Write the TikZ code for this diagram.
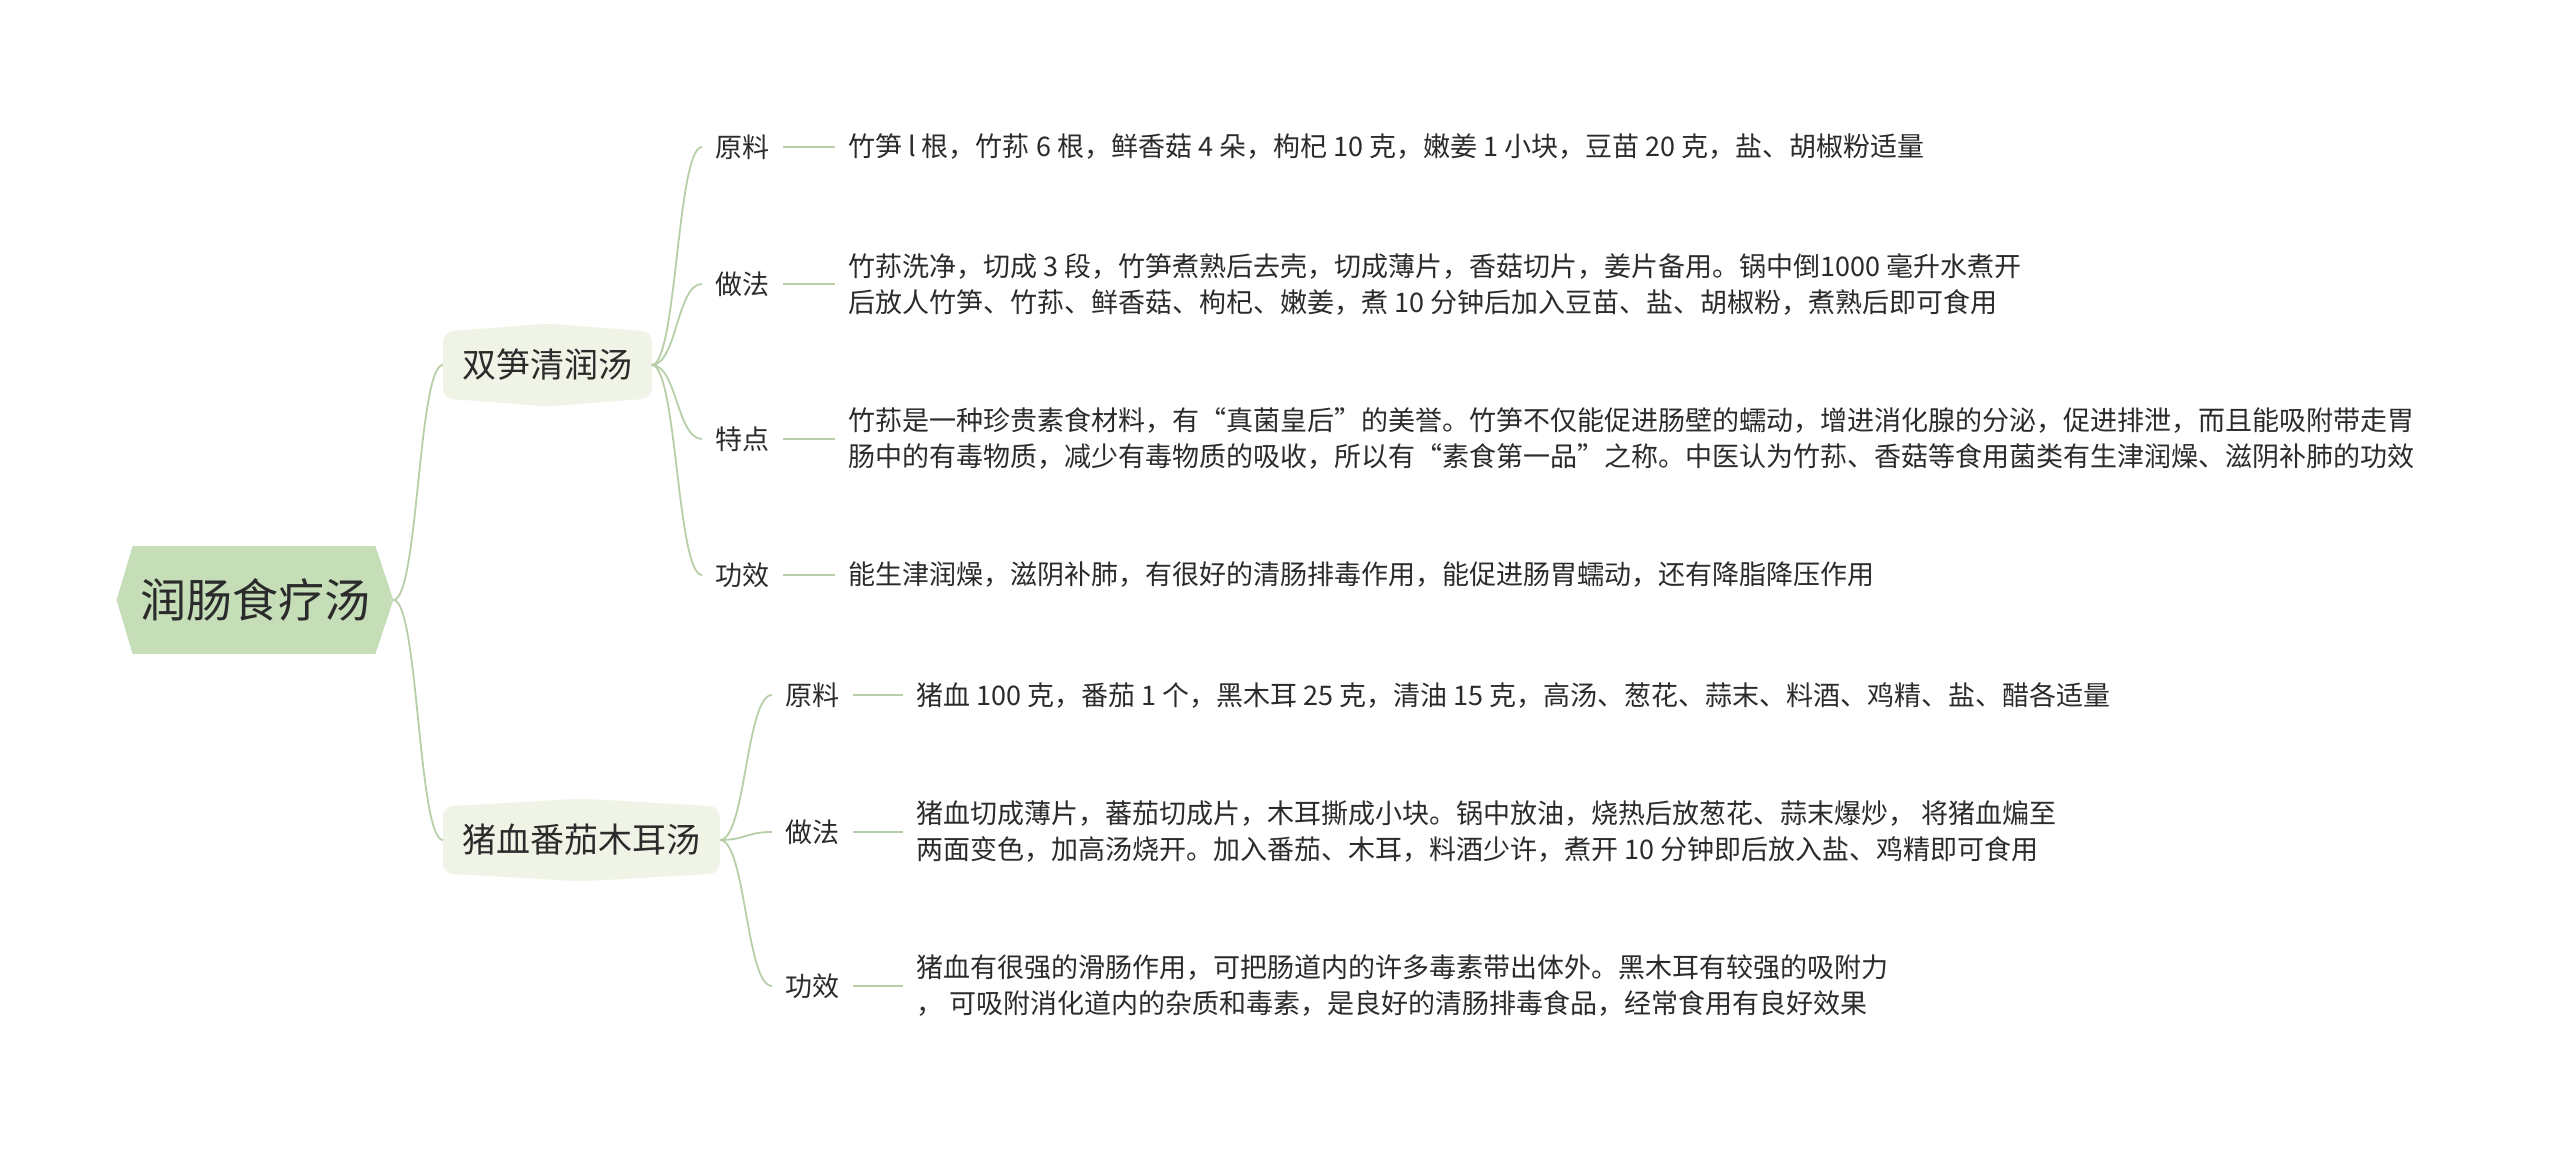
\documentclass[tikz,border=0pt]{standalone}
\usepackage{fontspec}
\setmainfont{Noto Sans CJK SC}
\usepackage{tikz}
\usetikzlibrary{positioning, calc, backgrounds}
\definecolor{rootfill}{RGB}{197,222,184}
\definecolor{soupfill}{RGB}{239,244,230}
\definecolor{twigcolor}{RGB}{183,207,168}
\definecolor{inkgray}{RGB}{43,43,43}
\tikzset{
  rootbox/.style={
    minimum width=138pt, minimum height=53.5pt, inner sep=0pt,
    font=\fontsize{23pt}{27pt}\selectfont, text=inkgray
  },
  soupbox/.style={
    anchor=west, minimum height=33pt, inner xsep=9.5pt, inner ysep=0pt,
    font=\fontsize{17pt}{20pt}\selectfont, text=inkgray
  },
  keylbl/.style={
    anchor=west, inner xsep=6.5pt, inner ysep=2pt,
    font=\fontsize{13.5pt}{18pt}\selectfont, text=inkgray
  },
  detail/.style={
    align=left, inner xsep=6.5pt, inner ysep=2pt,
    font=\fontsize{13.5pt}{18pt}\selectfont, text=inkgray
  },
  twig/.style={draw=twigcolor, line width=0.9pt},
}

\begin{document}
\begin{tikzpicture}[x=0.5pt, y=-0.5pt]
\useasboundingbox (0,0) rectangle (2560,1149);

%% ── root and the two soups ───────────────────────────────────────
\node[rootbox] (root) at (255,600) {润肠食疗汤};
\node[soupbox] (soup1) at (443,365) {双笋清润汤};
\node[soupbox] (soup2) at (443,840) {猪血番茄木耳汤};
\coordinate (roottip) at (root.east);

%% ── shaped backgrounds (hexagon root, peaked soup boxes) ─────────
\begin{pgfonlayer}{background}
  \fill[rootfill] (root.west) -- ([xshift=8pt]root.north west) -- ([xshift=-9pt]root.north east)
    -- (root.east) -- ([xshift=-9pt]root.south east) -- ([xshift=8pt]root.south west) -- cycle;
  \foreach \soup in {soup1, soup2}
    \fill[soupfill, rounded corners=5pt] (\soup.north west) -- ([yshift=4pt]\soup.north) -- (\soup.north east)
      -- (\soup.south east) -- ([yshift=-4pt]\soup.south) -- (\soup.south west) -- cycle;
\end{pgfonlayer}

%% ── 双笋清润汤 ────────────────────────────────────────────────────
\node[keylbl] (s1mat)  at (702,147) {原料};
\node[keylbl] (s1how)  at (702,284) {做法};
\node[keylbl] (s1feat) at (702,439) {特点};
\node[keylbl] (s1eff)  at (702,575) {功效};

\node[detail, right=26pt of s1mat] (s1matx)
  {竹笋 l 根，竹荪 6 根，鲜香菇 4 朵，枸杞 10 克，嫩姜 1 小块，豆苗 20 克，盐、胡椒粉适量};
\node[detail, right=26pt of s1how] (s1howx)
  {竹荪洗净，切成 3 段，竹笋煮熟后去壳，切成薄片，香菇切片，姜片备用。锅中倒1000 毫升水煮开\\
   后放人竹笋、竹荪、鲜香菇、枸杞、嫩姜，煮 10 分钟后加入豆苗、盐、胡椒粉，煮熟后即可食用};
\node[detail, right=26pt of s1feat] (s1featx)
  {竹荪是一种珍贵素食材料，有“真菌皇后”的美誉。竹笋不仅能促进肠壁的蠕动，增进消化腺的分泌，促进排泄，而且能吸附带走胃\\
   肠中的有毒物质，减少有毒物质的吸收，所以有“素食第一品”之称。中医认为竹荪、香菇等食用菌类有生津润燥、滋阴补肺的功效};
\node[detail, right=26pt of s1eff] (s1effx)
  {能生津润燥，滋阴补肺，有很好的清肠排毒作用，能促进肠胃蠕动，还有降脂降压作用};

%% ── 猪血番茄木耳汤 ────────────────────────────────────────────────
\node[keylbl] (s2mat) at (772,695) {原料};
\node[keylbl] (s2how) at (772,832) {做法};
\node[keylbl] (s2eff) at (772,986) {功效};

\node[detail, right=25pt of s2mat] (s2matx)
  {猪血 100 克，番茄 1 个，黑木耳 25 克，清油 15 克，高汤、葱花、蒜末、料酒、鸡精、盐、醋各适量};
\node[detail, right=25pt of s2how] (s2howx)
  {猪血切成薄片，蕃茄切成片，木耳撕成小块。锅中放油，烧热后放葱花、蒜末爆炒， 将猪血煸至\\
   两面变色，加高汤烧开。加入番茄、木耳，料酒少许，煮开 10 分钟即后放入盐、鸡精即可食用};
\node[detail, right=25pt of s2eff] (s2effx)
  {猪血有很强的滑肠作用，可把肠道内的许多毒素带出体外。黑木耳有较强的吸附力\\
   ， 可吸附消化道内的杂质和毒素，是良好的清肠排毒食品，经常食用有良好效果};

%% ── connectors ───────────────────────────────────────────────────
\foreach \soup in {soup1, soup2}
  \draw[twig] (roottip) .. controls +(25,0) and +(-25,0) .. (\soup.west);
\foreach \lbl in {s1mat, s1how, s1feat, s1eff}
  \draw[twig] (soup1.east) .. controls +(25,0) and +(-25,0) .. (\lbl.west);
\foreach \lbl in {s2mat, s2how, s2eff}
  \draw[twig] (soup2.east) .. controls +(26,0) and +(-26,0) .. (\lbl.west);
\foreach \lbl in {s1mat, s1how, s1feat, s1eff, s2mat, s2how, s2eff}
  \draw[twig] (\lbl.east) -- (\lbl x.west);

\end{tikzpicture}
\end{document}
